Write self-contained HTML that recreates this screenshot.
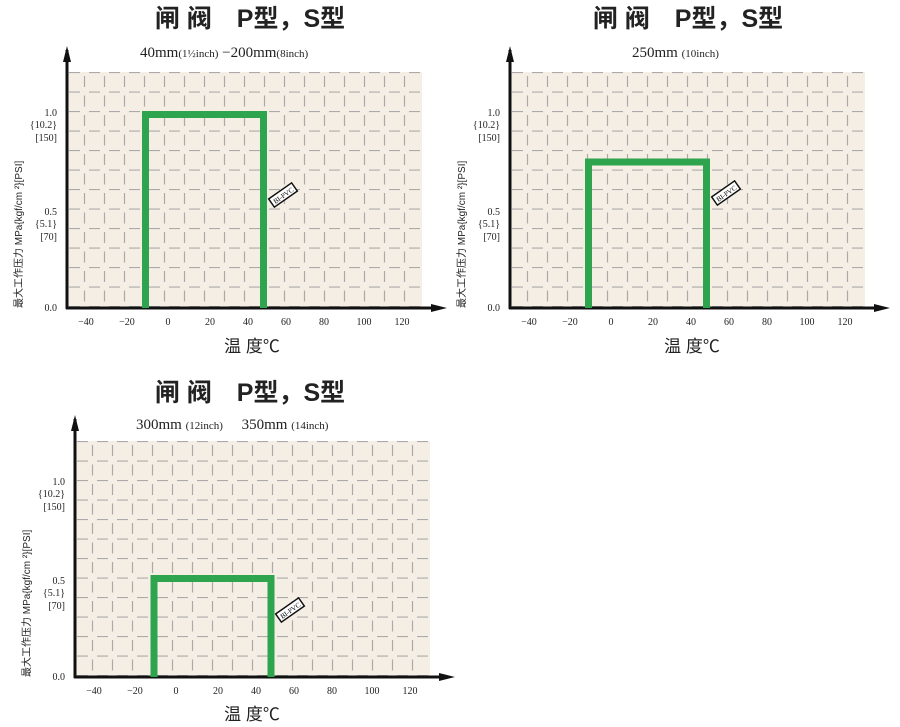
<!DOCTYPE html>
<html><head><meta charset="utf-8"><style>
body{margin:0;background:#fff;}
svg{display:block;font-family:"Liberation Serif","Noto Serif CJK SC",serif;}
.t{font-family:"Liberation Sans","Noto Sans CJK SC",sans-serif;font-size:25px;font-weight:bold;fill:#222;}
.s{font-size:15px;fill:#222;}
.ss{font-size:11px;fill:#222;}
.tk{font-size:10px;fill:#222;}
.xl{font-family:"Liberation Sans","Noto Sans CJK SC",sans-serif;font-size:17px;fill:#222;}
.yl{font-family:"Liberation Sans","Noto Sans CJK SC",sans-serif;font-size:10px;fill:#222;}
</style></head><body>
<svg width="900" height="727" viewBox="0 0 900 727" xmlns="http://www.w3.org/2000/svg">
<defs>
<pattern id="g" width="20" height="19.5" patternUnits="userSpaceOnUse">
<rect width="20" height="19.5" fill="#f5eee4"/>
<line x1="2" y1="0.5" x2="13" y2="0.5" stroke="#aaa" stroke-width="1.2"/>
<line x1="17.5" y1="4" x2="17.5" y2="15" stroke="#aaa" stroke-width="1.2"/>
</pattern>
<g id="chart">
<rect x="1" y="0" width="354" height="236" fill="url(#g)"/>
<line x1="0" y1="-22" x2="0" y2="237" stroke="#111" stroke-width="3"/>
<polygon points="-4,-10 0,-26 4,-10" fill="#111"/>
<line x1="-1" y1="236" x2="368" y2="236" stroke="#111" stroke-width="3"/>
<polygon points="364,232 380,236 364,240" fill="#111"/>
<g class="tk" text-anchor="middle">
<text x="19" y="253">−40</text><text x="60" y="253">−20</text><text x="101" y="253">0</text>
<text x="143" y="253">20</text><text x="181" y="253">40</text><text x="219" y="253">60</text>
<text x="257" y="253">80</text><text x="297" y="253">100</text><text x="335" y="253">120</text>
</g>
<g class="tk" text-anchor="end">
<text x="-10" y="239">0.0</text>
<text x="-10" y="143">0.5</text><text x="-10" y="155">{5.1}</text><text x="-10" y="168">[70]</text>
<text x="-10" y="44">1.0</text><text x="-10" y="56">{10.2}</text><text x="-10" y="69">[150]</text>
</g>
<text class="yl" transform="translate(-45,236) rotate(-90)" x="0" y="0">最大工作压力 MPa{kgf/cm ²}[PSI]</text>
</g>
</defs>

<!-- chart 1 -->
<text class="t" x="250" y="27" text-anchor="middle">闸 阀　P型，S型</text>
<text x="140" y="57" class="s">40mm<tspan class="ss">(1½inch)</tspan> −200mm<tspan class="ss">(8inch)</tspan></text>
<g transform="translate(67,72)"><use href="#chart"/></g>
<path d="M145.5,308 V114.5 H263.5 V308" fill="none" stroke="#2ea44f" stroke-width="7"/>
<g transform="translate(283,195) rotate(-35)"><rect x="-14" y="-5" width="28" height="10" fill="#fff" stroke="#111" stroke-width="1.5"/><text x="0" y="3" font-size="7" text-anchor="middle">BI-PVC</text></g>
<text class="xl" x="252" y="352" text-anchor="middle">温 度℃</text>

<!-- chart 2 -->
<text class="t" x="688" y="27" text-anchor="middle">闸 阀　P型，S型</text>
<text x="632" y="57" class="s">250mm <tspan class="ss">(10inch)</tspan></text>
<g transform="translate(510,72)"><use href="#chart"/></g>
<path d="M588.5,308 V162 H706.5 V308" fill="none" stroke="#2ea44f" stroke-width="7"/>
<g transform="translate(726,193) rotate(-35)"><rect x="-14" y="-5" width="28" height="10" fill="#fff" stroke="#111" stroke-width="1.5"/><text x="0" y="3" font-size="7" text-anchor="middle">BI-PVC</text></g>
<text class="xl" x="692" y="352" text-anchor="middle">温 度℃</text>

<!-- chart 3 -->
<text class="t" x="250" y="401" text-anchor="middle">闸 阀　P型，S型</text>
<text x="136" y="429" class="s">300mm <tspan class="ss">(12inch)</tspan>　 350mm <tspan class="ss">(14inch)</tspan></text>
<g transform="translate(75,441)"><use href="#chart"/></g>
<path d="M154,677 V578.5 H271 V677" fill="none" stroke="#2ea44f" stroke-width="7"/>
<g transform="translate(290,610) rotate(-35)"><rect x="-14" y="-5" width="28" height="10" fill="#fff" stroke="#111" stroke-width="1.5"/><text x="0" y="3" font-size="7" text-anchor="middle">BI-PVC</text></g>
<text class="xl" x="252" y="720" text-anchor="middle">温 度℃</text>
</svg>
</body></html>
